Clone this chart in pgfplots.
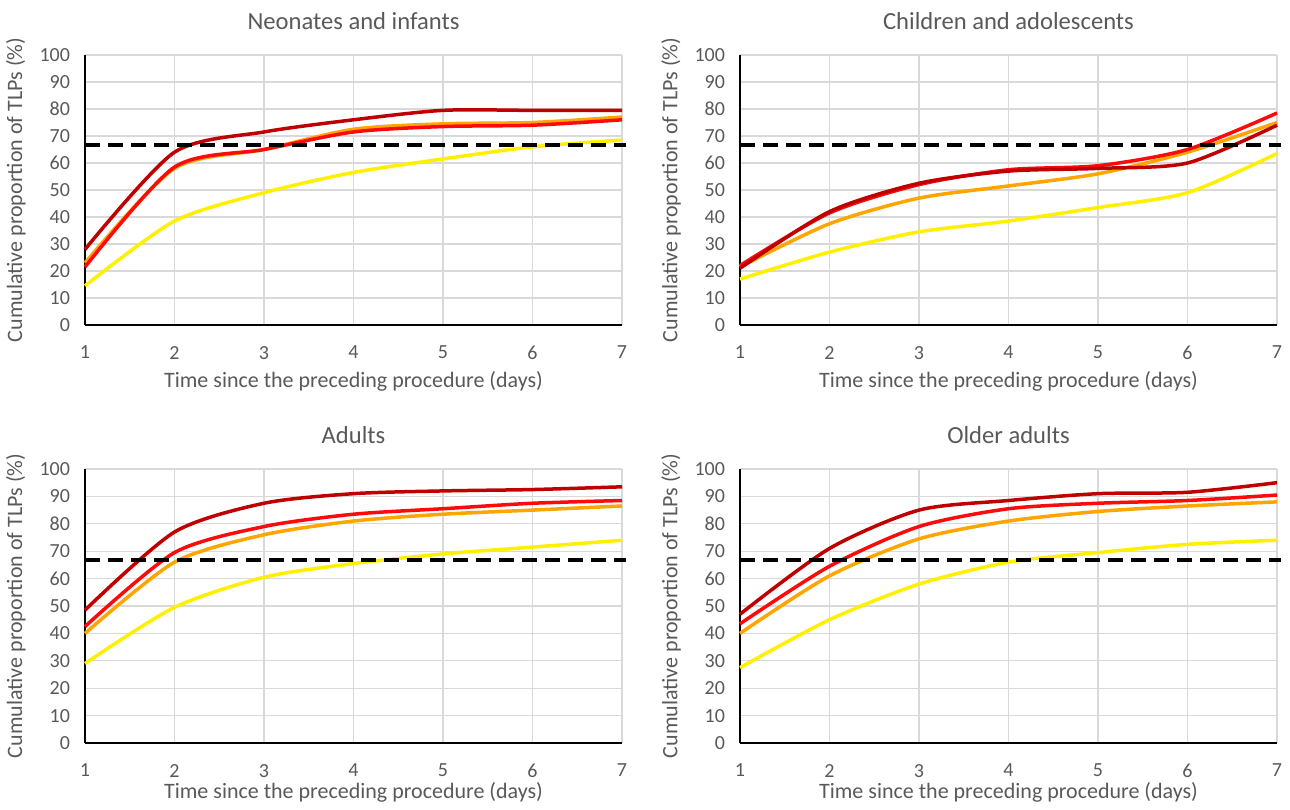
\documentclass[border=0pt]{standalone}
\usepackage{pgfplots}
\pgfplotsset{compat=1.18}
\usepackage{fontspec}
\setmainfont{Carlito}
\definecolor{cdark}{RGB}{192,0,0}
\definecolor{cred}{RGB}{255,10,10}
\definecolor{corange}{RGB}{255,165,0}
\definecolor{cyellow}{RGB}{255,240,0}
\definecolor{txt}{RGB}{89,89,89}
\definecolor{gridc}{RGB}{217,217,217}
\pgfplotsset{
  panel/.style={
    scale only axis, width=268.5pt, height=135pt,
    xmin=1, xmax=7, ymin=0, ymax=100,
    xtick={1,...,7}, ytick={0,10,...,100},
    axis lines=left, axis line style={-, black, line width=0.9pt},
    major tick length=0pt,
    grid=major, major grid style={gridc, line width=0.6pt},
    tick label style={font=\fontsize{10}{12}\selectfont, text=txt},
    /pgf/number format/assume math mode=true,
    xticklabel style={yshift=-7pt},
    yticklabel style={xshift=-4pt},
    xlabel={Time since the preceding procedure (days)},
    ylabel={Cumulative proportion of TLPs (\%)},
    label style={font=\fontsize{11}{13}\selectfont, text=txt},
    xlabel style={yshift=1pt},
    ylabel style={yshift=0pt},
    title style={font=\fontsize{12.3}{14}\selectfont, text=txt, yshift=3pt},
    clip=false,
  },
  ln/.style={smooth, tension=0.45, line width=1.75pt, no marks},
  dash/.style={black, line width=2pt, dash pattern=on 7.5pt off 4pt, no marks},
}
\begin{document}
\begin{tikzpicture}
\useasboundingbox (0,0) rectangle (645pt,404.5pt);
% Panel 1
\begin{axis}[panel, at={(42.5pt,242pt)}, anchor=south west, title={Neonates and infants}]
\addplot[ln, cyellow] coordinates {(1,14.5)(2,38.5)(3,49)(4,56.5)(5,61.5)(6,66)(7,68.5)};
\addplot[ln, corange] coordinates {(1,23)(2,58)(3,65)(4,72.5)(5,74.5)(6,75)(7,77)};
\addplot[ln, cred] coordinates {(1,21.5)(2,58.5)(3,65)(4,71.5)(5,73.5)(6,74)(7,76)};
\addplot[ln, cdark] coordinates {(1,28)(2,64)(3,71.5)(4,76)(5,79.5)(6,79.5)(7,79.5)};
\addplot[dash] coordinates {(1,66.7)(7.05,66.7)};
\end{axis}
% Panel 2
\begin{axis}[panel, at={(370pt,242pt)}, anchor=south west, title={Children and adolescents}]
\addplot[ln, cyellow] coordinates {(1,17)(2,27)(3,34.5)(4,38.5)(5,43.5)(6,49)(7,63.5)};
\addplot[ln, corange] coordinates {(1,21.5)(2,37.5)(3,47)(4,51.5)(5,56)(6,64)(7,75)};
\addplot[ln, cred] coordinates {(1,22)(2,41.5)(3,52)(4,57.5)(5,59)(6,65)(7,78.5)};
\addplot[ln, cdark] coordinates {(1,21)(2,42)(3,52.5)(4,57)(5,58)(6,60)(7,74)};
\addplot[dash] coordinates {(1,66.7)(7.05,66.7)};
\end{axis}
% Panel 3
\begin{axis}[panel, height=137pt, at={(42.5pt,33pt)}, anchor=south west, title={Adults}, xlabel style={yshift=3.5pt}]
\addplot[ln, cyellow] coordinates {(1,29)(2,49.5)(3,60.5)(4,65.5)(5,69)(6,71.5)(7,74)};
\addplot[ln, corange] coordinates {(1,40)(2,66)(3,76)(4,81)(5,83.5)(6,85)(7,86.5)};
\addplot[ln, cred] coordinates {(1,42.5)(2,69.5)(3,79)(4,83.5)(5,85.5)(6,87.5)(7,88.5)};
\addplot[ln, cdark] coordinates {(1,48.5)(2,77)(3,87.5)(4,91)(5,92)(6,92.5)(7,93.5)};
\addplot[dash] coordinates {(1,66.7)(7.05,66.7)};
\end{axis}
% Panel 4
\begin{axis}[panel, height=137pt, at={(370pt,33pt)}, anchor=south west, title={Older adults}, xlabel style={yshift=3.5pt}]
\addplot[ln, cyellow] coordinates {(1,27.5)(2,45)(3,58)(4,66)(5,69.5)(6,72.5)(7,74)};
\addplot[ln, corange] coordinates {(1,40)(2,61)(3,74.5)(4,81)(5,84.5)(6,86.5)(7,88)};
\addplot[ln, cred] coordinates {(1,43.5)(2,64.5)(3,79)(4,85.5)(5,87.5)(6,88.5)(7,90.5)};
\addplot[ln, cdark] coordinates {(1,47)(2,71)(3,85)(4,88.5)(5,91)(6,91.5)(7,95)};
\addplot[dash] coordinates {(1,66.7)(7.05,66.7)};
\end{axis}
\end{tikzpicture}
\end{document}
